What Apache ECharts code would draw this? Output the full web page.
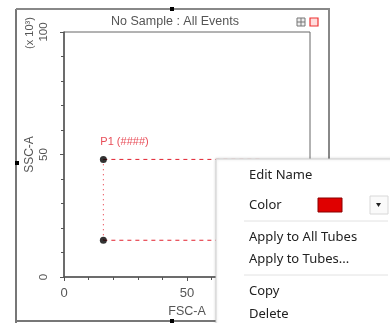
<!DOCTYPE html>
<html><head><meta charset="utf-8">
<script src="https://cdn.jsdelivr.net/npm/echarts@6/dist/echarts.min.js"></script>
<style>html,body{margin:0;padding:0;background:#fff}#c{width:390px;height:323px}</style>
</head><body><div id="c"></div>
<script>
// Data
const titleText = "No Sample : All Events";
const xName = "FSC-A";
const yName = "SSC-A";
const yUnit = "(x 10\u00b3)";
const xTicks = [0, 50, 100];
const yTicks = [0, 50, 100];
const gateName = "P1 (####)";
const gateX = [16, 80];      // left, right (right edge hidden under menu)
const gateY = [15, 48];      // bottom, top
const menuItems = ["Edit Name", "Color", "Apply to All Tubes", "Apply to Tubes...", "Copy", "Delete"];
const gateColor = "#e2202e";

const chart = echarts.init(document.getElementById('c'));
const axisCol = '#555';
const font = 'Liberation Sans, Arial, sans-serif';

const topEdge = [[gateX[0], gateY[1]], [gateX[1], gateY[1]]];
const botEdge = [[gateX[0], gateY[0]], [gateX[1], gateY[0]]];
const leftEdge = [[gateX[0], gateY[0]], [gateX[0], gateY[1]]];
const corners = [[gateX[0], gateY[1]], [gateX[0], gateY[0]]];

const menuY = [175, 205, 237, 259, 291, 314];
const menuGraphics = [
  {type:'rect', shape:{x:216,y:159,width:180,height:170}, style:{fill:'#fff', stroke:'#d0d0d0', lineWidth:1, shadowBlur:3, shadowColor:'rgba(0,0,0,0.15)'}, z:100},
  {type:'line', shape:{x1:244,y1:221,x2:388,y2:221}, style:{stroke:'#e2e2e2', lineWidth:1}, z:101},
  {type:'line', shape:{x1:244,y1:275,x2:388,y2:275}, style:{stroke:'#e2e2e2', lineWidth:1}, z:101},
  {type:'rect', shape:{x:318,y:198,width:24,height:14}, style:{fill:'#e00000', stroke:'#8a0000', lineWidth:1}, z:101},
  {type:'rect', shape:{x:370,y:196,width:18,height:18}, style:{fill:'#fafafa', stroke:'#d8d8d8', lineWidth:1}, z:101},
  {type:'polygon', shape:{points:[[376,203],[381,203],[378.5,207]]}, style:{fill:'#222'}, z:102}
];
menuItems.forEach((t,i)=>{
  menuGraphics.push({type:'text', x:249, y:menuY[i], style:{text:t, font:'13px "Noto Sans", "Open Sans", sans-serif', fill:'#222', verticalAlign:'middle'}, z:102});
});

const frameGraphics = [
  {type:'line', shape:{x1:16,y1:9,x2:16,y2:323}, style:{stroke:'#777', lineWidth:2}, z:50},
  {type:'line', shape:{x1:16,y1:9,x2:330,y2:9}, style:{stroke:'#888', lineWidth:2}, z:50},
  {type:'line', shape:{x1:329,y1:9,x2:329,y2:323}, style:{stroke:'#888', lineWidth:2}, z:50},
  {type:'line', shape:{x1:16,y1:321,x2:330,y2:321}, style:{stroke:'#777', lineWidth:2}, z:50},
  {type:'rect', shape:{x:170,y:7,width:4,height:4}, style:{fill:'#000'}, z:51},
  {type:'rect', shape:{x:15,y:161,width:4,height:4}, style:{fill:'#000'}, z:51},
  {type:'rect', shape:{x:170,y:319,width:4,height:4}, style:{fill:'#000'}, z:51},
  {type:'text', x:175, y:22, style:{text:titleText, font:'12.5px ' + font, fill:'#555', align:'center', verticalAlign:'middle'}, z:51},
  {type:'rect', shape:{x:297,y:18,width:8,height:8}, style:{fill:'#eee', stroke:'#777', lineWidth:1}, z:51},
  {type:'line', shape:{x1:297,y1:22,x2:305,y2:22}, style:{stroke:'#777', lineWidth:1}, z:51},
  {type:'line', shape:{x1:301,y1:18,x2:301,y2:26}, style:{stroke:'#777', lineWidth:1}, z:51},
  {type:'rect', shape:{x:310,y:18,width:8,height:8}, style:{fill:'#fdd', stroke:'#e33', lineWidth:1.2}, z:51},
  {type:'text', x:30, y:33, rotation:Math.PI/2, style:{text:yUnit, font:'11px ' + font, fill:'#555', align:'center', verticalAlign:'middle'}, z:51}
];

chart.setOption({
  animation:false,
  backgroundColor:'#fff',
  grid:{left:64, top:32, width:246, height:247, show:true, borderColor:'#666', borderWidth:1, backgroundColor:'#fff'},
  xAxis:{type:'value', min:0, max:100, interval:50,
    name:xName, nameLocation:'middle', nameGap:28, nameTextStyle:{color:'#555', fontSize:12.5, fontFamily:font},
    axisLine:{show:true, onZero:false, lineStyle:{color:axisCol, width:1.5}},
    axisTick:{show:true, length:4, lineStyle:{color:axisCol}},
    minorTick:{show:true, splitNumber:5, length:3, lineStyle:{color:axisCol}},
    axisLabel:{color:'#555', fontSize:13, fontFamily:font, margin:10, showMaxLabel:false,
      formatter:v=> xTicks.indexOf(v)>=0 ? String(v) : ''},
    splitLine:{show:false}},
  yAxis:{type:'value', min:0, max:100, interval:50,
    name:yName, nameLocation:'middle', nameGap:28, nameRotate:90, nameMoveOverlap:false,
    nameTextStyle:{color:'#555', fontSize:12, fontFamily:font},
    axisLine:{show:true, onZero:false, lineStyle:{color:axisCol, width:1.5}},
    axisTick:{show:true, length:4, lineStyle:{color:axisCol}},
    minorTick:{show:true, splitNumber:5, length:3, lineStyle:{color:axisCol}},
    axisLabel:{color:'#555', fontSize:11.5, fontFamily:font, rotate:90, margin:14,
      formatter:v=> yTicks.indexOf(v)>=0 ? String(v) : ''},
    splitLine:{show:false}},
  series:[
    {type:'line', data:topEdge, symbol:'none', lineStyle:{color:gateColor, type:[4,4], width:1}, z:5},
    {type:'line', data:botEdge, symbol:'none', lineStyle:{color:gateColor, type:[4,4], width:1}, z:5},
    {type:'line', data:leftEdge, symbol:'none', lineStyle:{color:gateColor, type:[1,4], width:1}, z:5},
    {type:'scatter', data:corners, symbol:'circle', symbolSize:7, itemStyle:{color:'#000'}, z:6,
      label:{show:true, position:'top', formatter:p=> p.dataIndex===0 ? gateName : '', color:gateColor, fontSize:11, fontFamily:font, align:'left', offset:[-3,-3]}}
  ],
  graphic:frameGraphics.concat(menuGraphics)
});
</script></body></html>
